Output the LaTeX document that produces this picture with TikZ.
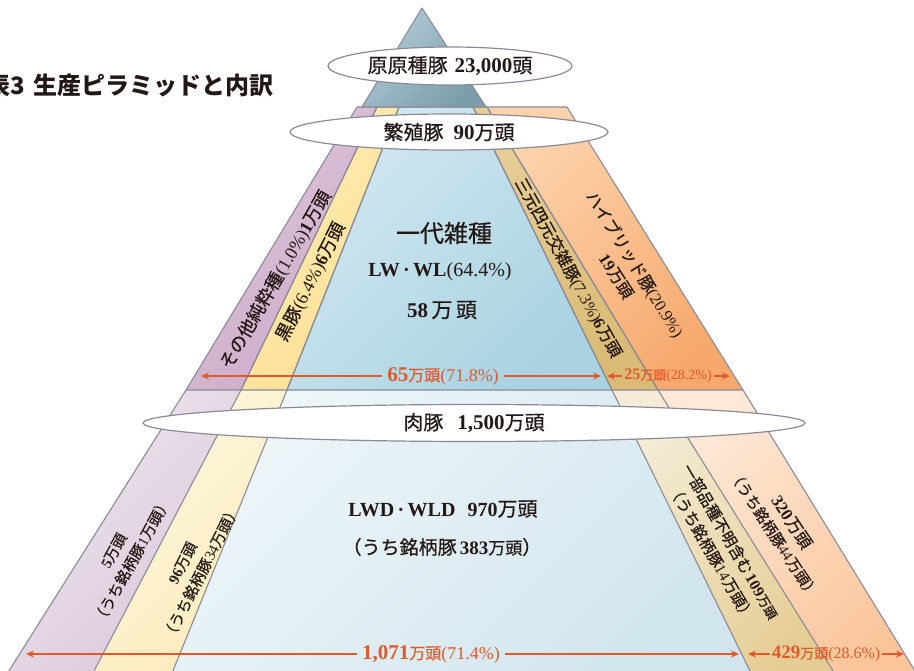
\documentclass[tikz,border=0pt]{standalone}
\usepackage{fontspec}
\setmainfont{Noto Sans CJK JP}[FakeBold=0.5]
\newfontfamily\lat{Liberation Serif}
\newfontfamily\tfont{Noto Sans CJK JP}
\usetikzlibrary{arrows.meta,shapes.geometric}
\newcommand\nm[1]{{\lat #1}}
\newcommand\bn[1]{{\lat\bfseries #1}}
\newcommand\fs[1]{\fontsize{#1}{#1}\selectfont}
\definecolor{edge}{HTML}{8B8B98}
\definecolor{ink}{HTML}{231815}
\definecolor{rul}{HTML}{E0592A}
\tikzset{
  band/.style 2 args={/utils/exec={\definecolor{bandA}{HTML}{#1}\definecolor{bandB}{HTML}{#2}}, top color=bandA, bottom color=bandB, shading angle=45},
  ell/.style={ellipse, draw=edge, fill=white, line width=1.2pt, inner sep=0pt, text=ink},
  lbl/.style={text=ink, inner sep=0pt, align=center},
  rtext/.style={text=rul, inner sep=5pt},
  rarr/.style={draw=rul, line width=1.5pt, -{Stealth[length=8pt,width=7pt]}},
  outl/.style={draw=edge, line width=1.1pt, line join=round}
}
\begin{document}
\begin{tikzpicture}[x=1pt,y=-1pt]
\useasboundingbox (0,0) rectangle (914,671);
\clip (0,0) rectangle (914,671);
% lower tier
\shade[band={EFE6EF}{D9C7D9}] (186,390) -- (241,390) -- (86.7,685) -- (0,685) -- cycle;
\shade[band={FEF8E2}{FCEBB8}] (241,390) -- (287,390) -- (167.2,685) -- (86.7,685) -- cycle;
\shade[band={EEF6F9}{D0E5EE}] (287,390) -- (612,390) -- (756.9,685) -- (167.2,685) -- cycle;
\shade[band={F4ECD6}{E5CC93}] (612,390) -- (658,390) -- (841.8,685) -- (756.9,685) -- cycle;
\shade[band={FEE9D8}{FAC59A}] (658,390) -- (743,390) -- (923.6,685) -- (841.8,685) -- cycle;
% upper tier
\shade[band={DDC6DA}{CDAAC9}] (357,107) -- (377,107) -- (241,390) -- (186,390) -- cycle;
\shade[band={FEEBB2}{FDE096}] (377,107) -- (399,107) -- (287,390) -- (241,390) -- cycle;
\shade[band={D2E8F0}{A8D2E2}] (399,107) -- (473,107) -- (612,390) -- (287,390) -- cycle;
\shade[band={E6CD96}{DABA74}] (473,107) -- (487,107) -- (658,390) -- (612,390) -- cycle;
\shade[band={FDD3AC}{F6A86C}] (487,107) -- (567,107) -- (743,390) -- (658,390) -- cycle;
% outlines
\draw[outl] (357,107) -- (377,107) -- (241,390) -- (186,390) -- cycle;
\draw[outl] (377,107) -- (399,107) -- (287,390) -- (241,390) -- cycle;
\draw[outl] (399,107) -- (473,107) -- (612,390) -- (287,390) -- cycle;
\draw[outl] (473,107) -- (487,107) -- (658,390) -- (612,390) -- cycle;
\draw[outl] (487,107) -- (567,107) -- (743,390) -- (658,390) -- cycle;
\draw[outl] (186,390) -- (0,685) (241,390) -- (86.7,685) (287,390) -- (167.2,685)
  (612,390) -- (756.9,685) (658,390) -- (841.8,685) (743,390) -- (923.6,685);
% top triangle
\shade[band={B2CCD6}{7C9DAC}] (422,8) -- (486,107) -- (362,107) -- cycle;
\draw[outl] (422,8) -- (486,107) -- (362,107) -- cycle;
% ellipses
\node[ell, minimum width=244pt, minimum height=38pt] (e1) at (450,66)
  {\fs{20}原原種豚\hspace{7pt}\fontsize{21}{21}\selectfont\bn{23,000}\fs{20}頭};
\node[ell, minimum width=318pt, minimum height=36pt] (e2) at (449,132)
  {\fs{20}繁殖豚\hspace{10pt}\fontsize{21}{21}\selectfont\bn{90}\fs{20}万頭};
\node[ell, minimum width=662pt, minimum height=37pt] (e3) at (474,423)
  {\fs{20}肉豚\hspace{14pt}\fontsize{21}{21}\selectfont\bn{1,500}\fs{20}万頭};
% title
\node[anchor=east, text=ink, inner sep=0pt, font=\tfont\bfseries] (title) at (274,85)
  {\fs{24}表3\hspace{9pt}生産ピラミッドと内訳};
% central texts
\node[lbl] (n1) at (444,233) {\fs{24}一代雑種};
\node[lbl] (n2) at (440,272) {\fs{20}\bn{LW\,·\,WL}\nm{(64.4\%)}};
\node[lbl] (n3) at (442,310) {\fs{21}\bn{58}\,万\,頭};
\node[lbl] (n4) at (443,509) {\fs{20}\bn{LWD\,·\,WLD}\hspace{12pt}\bn{970}万頭};
\node[lbl] (n5) at (442,547) {\fs{19}（うち銘柄豚\,\bn{383}\fs{17}万頭\fs{19}）};
% rotated band labels
\node[lbl, rotate=60, font=\fs{18}] (l1) at (276,280) {その他純粋種\nm{(1.0\%)}\bn{1}万頭};
\node[lbl, rotate=63, font=\fs{18}] (l2) at (311,282) {黒豚\nm{(6.4\%)}\bn{6}万頭};
\node[lbl, rotate=-61, font=\fs{16.5}] (l3) at (568,268) {三元四元交雑豚\nm{(7.3\%)}\bn{6}万頭};
\node[lbl, rotate=-58, font=\fontsize{16.5}{22}\selectfont] (l4) at (626,270) {ハイブリッド豚\nm{(20.9\%)}\\\bn{19}万頭};
\node[lbl, rotate=61, font=\fontsize{15}{21}\selectfont] (l5) at (123,556) {\bn{5}万頭\\（うち銘柄豚\nm{1}万頭）};
\node[lbl, rotate=63, font=\fontsize{15}{21}\selectfont] (l6) at (192,568) {\bn{96}万頭\\（うち銘柄豚\nm{34}万頭）};
\node[lbl, rotate=-60, font=\fontsize{15.5}{22}\selectfont] (l7) at (721,547) {一部品種不明含む\,\bn{109}{\fs{13}万頭}\\（うち銘柄豚\nm{14}万頭）};
\node[lbl, rotate=-57, font=\fontsize{15}{21}\selectfont] (l8) at (783,528) {{\fs{17}\bn{320}万頭}\\（うち銘柄豚\nm{44}万頭）};
% rulers
\coordinate (a1) at (201,376); \coordinate (a2) at (601,376);
\coordinate (b1) at (607,376); \coordinate (b2) at (730,376);
\coordinate (c1) at (26,654);  \coordinate (c2) at (739,654);
\coordinate (d1) at (748,654); \coordinate (d2) at (904,654);
\node[rtext] (t1) at (443,376) {\fs{21}\bn{65}\fs{16}万頭\fs{18}\nm{(71.8\%)}};
\node[rtext, inner sep=2pt] (t2) at (668,376) {\fs{16}\bn{25}\fs{13}万頭\fs{14}\nm{(28.2\%)}};
\node[rtext] (t3) at (431,654) {\fs{21}\bn{1,071}\fs{16}万頭\fs{18}\nm{(71.4\%)}};
\node[rtext, inner sep=2pt] (t4) at (826,654) {\fs{19}\bn{429}\fs{14}万頭\fs{16}\nm{(28.6\%)}};
\draw[rarr] (t1.west) -- (a1);
\draw[rarr] (t1.east) -- (a2);
\draw[rarr] (t2.west) -- (b1);
\draw[rarr] (t2.east) -- (b2);
\draw[rarr] (t3.west) -- (c1);
\draw[rarr] (t3.east) -- (c2);
\draw[rarr] (t4.west) -- (d1);
\draw[rarr] (t4.east) -- (d2);
\end{tikzpicture}
\end{document}
